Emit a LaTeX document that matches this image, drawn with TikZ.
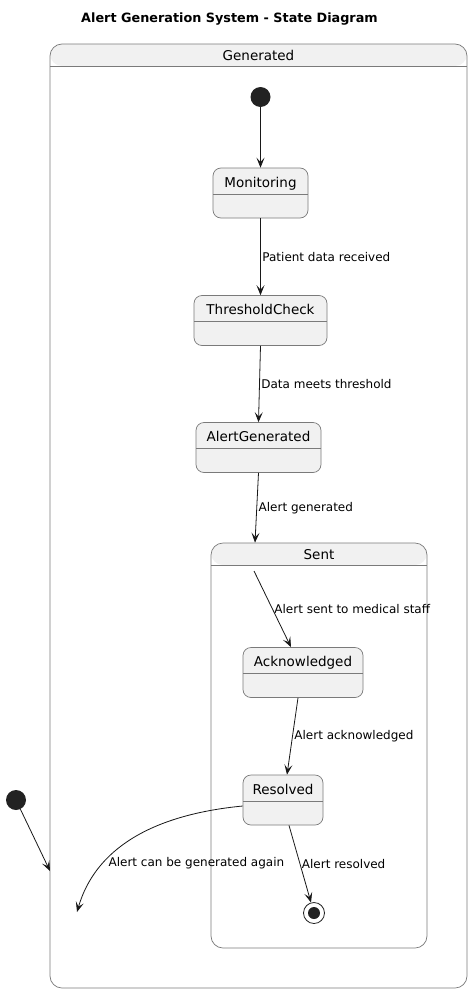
\documentclass[tikz,border=0pt]{standalone}
\usepackage{fontspec}
\setmainfont{DejaVu Sans}
\usetikzlibrary{arrows.meta,positioning,calc}
\usepackage{xcolor}

\definecolor{fond}{HTML}{F1F1F1}
\definecolor{bordure}{HTML}{7A7A7A}
\definecolor{trait}{HTML}{181818}
\definecolor{point}{HTML}{222222}

\begin{document}
\begin{tikzpicture}[
  x=1pt, y=-1pt,
  etat/.style={draw=bordure, line width=0.7pt, fill=fond, rounded corners=8pt, inner xsep=0pt, inner ysep=0pt, text height=19pt, text depth=31pt, font=\fontsize{13.5}{16}\selectfont,
    path picture={\draw[bordure, line width=0.7pt] ([yshift=-26pt]path picture bounding box.north west) -- ([yshift=-26pt]path picture bounding box.north east);}},
  cadre/.style={draw=bordure, line width=0.7pt, fill=white, rounded corners=12pt,
    path picture={\fill[fond] (path picture bounding box.north west) rectangle ([yshift=-22pt]path picture bounding box.north east);
      \draw[bordure, line width=0.7pt] ([yshift=-22pt]path picture bounding box.north west) -- ([yshift=-22pt]path picture bounding box.north east);}},
  entete/.style={anchor=base, yshift=-17pt, font=\fontsize{13.5}{16}\selectfont},
  debut/.style={circle, fill=point, minimum size=20pt, inner sep=0pt},
  fin/.style={circle, draw=point, fill=white, line width=0.8pt, minimum size=21pt, inner sep=0pt,
    path picture={\fill[point] (path picture bounding box.center) circle (6pt);}},
  fleche/.style={-{Stealth[length=10pt, width=8pt, inset=4.5pt]}, line width=0.8pt, draw=trait},
  etiq/.style={font=\fontsize{12}{14}\selectfont, inner sep=1.5pt}
]
\useasboundingbox (0,0) rectangle (473,993);
\node[font=\bfseries\fontsize{12.8}{15}\selectfont] (titre) at (229.5,19.5) {Alert Generation System - State Diagram};

% composite states
\node[cadre, minimum width=417pt, minimum height=944pt, label={[entete]north:Generated}] (generated) at (258.5,516) {};
\node[cadre, minimum width=216pt, minimum height=405pt, label={[entete]north:Sent}] (sent) at (319,745.5) {};

\node[debut] (init) at (260.5,97) {};
\node[etat, minimum width=95pt] (monitoring) at (260.5,193) {Monitoring};
\node[etat, minimum width=133pt] (threshold) at (260.5,320.5) {ThresholdCheck};
\node[etat, minimum width=125pt] (alertgen) at (258.5,447.5) {AlertGenerated};
\node[etat, minimum width=120pt] (ack) at (303,672.5) {Acknowledged};
\node[etat, minimum width=80pt] (resolved) at (283,800) {Resolved};
\node[fin] (final) at (314,913) {};
\node[debut] (init2) at (16,800) {};
\coordinate (entree) at (50,871);
\coordinate (retour) at (77,912);
\coordinate (depart) at (254,571);

\draw[fleche] (init) -- (monitoring);
\draw[fleche] (monitoring) -- node[etiq, right]{Patient data received} (threshold);
\draw[fleche] (threshold.south) -- node[etiq, right]{Data meets threshold} (alertgen.north);
\draw[fleche] (alertgen.south) -- node[etiq, right]{Alert generated} ([xshift=-64pt]sent.north);
\draw[fleche] (depart) -- node[etiq, right]{Alert sent to medical staff} ([xshift=-12pt]ack.north);
\draw[fleche] ([xshift=-5pt]ack.south) -- node[etiq, right]{Alert acknowledged} ([xshift=4pt]resolved.north);
\draw[fleche] ([xshift=6pt]resolved.south) -- node[etiq, right]{Alert resolved} (final);
\draw[fleche] ([yshift=-6pt]resolved.west) .. controls (150,815) and (95,850) .. node[etiq, pos=0.7, anchor=west, inner sep=5pt]{Alert can be generated again} (retour);
\draw[fleche] (init2) -- (entree);
\end{tikzpicture}
\end{document}
